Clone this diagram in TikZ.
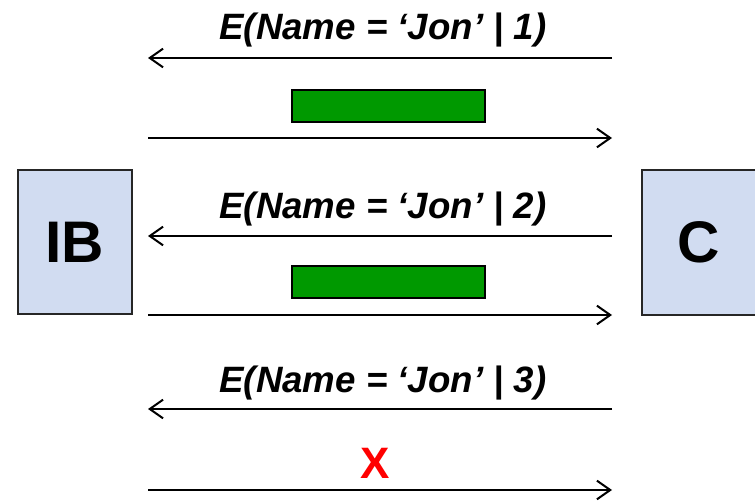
\documentclass[tikz,border=0pt]{standalone}
\usepackage{fontspec}
\setmainfont{Liberation Sans}
\usetikzlibrary{arrows.meta}
\begin{document}
\begin{tikzpicture}[x=0.75pt,y=-0.75pt,
  party/.style={draw=black!85,line width=1.5pt,fill={rgb,255:red,209;green,220;blue,241},minimum width=114*0.75pt,minimum height=144*0.75pt,inner sep=0pt,font=\fontsize{44}{44}\selectfont\bfseries},
  msg/.style={line width=1.5pt,-{Straight Barb[length=10pt,width=14pt,line width=1.5pt]}},
  lbl/.style={anchor=base,inner sep=0pt,font=\fontsize{27.5}{28}\selectfont\bfseries\itshape},
  reply/.style={draw=black,line width=1.5pt,fill={rgb,255:red,0;green,153;blue,0},minimum width=193*0.75pt,minimum height=32*0.75pt,inner sep=0pt},
  fail/.style={anchor=base,inner sep=0pt,text={rgb,255:red,255;green,0;blue,0},font=\fontsize{33}{33}\selectfont\bfseries}]
\useasboundingbox (0,0) rectangle (755,502);
\node[party] (IB) at (75,242) {IB};
\node[party] (C) at (698.5,242.5) {C};
\foreach \i/\y in {1/58,2/236,3/409}{
  \coordinate (qR\i) at (612,\y);
  \coordinate (qL\i) at (148,\y);
}
\foreach \i/\y in {1/138,2/315,3/490}{
  \coordinate (aL\i) at (148,\y);
  \coordinate (aR\i) at (612,\y);
}
\draw[msg] (qR1) -- (qL1);
\draw[msg] (aL1) -- (aR1);
\draw[msg] (qR2) -- (qL2);
\draw[msg] (aL2) -- (aR2);
\draw[msg] (qR3) -- (qL3);
\draw[msg] (aL3) -- (aR3);
\node[lbl] (l1) at (383,40) {E(Name = ‘Jon’ | 1)};
\node[lbl] (l2) at (383,218) {E(Name = ‘Jon’ | 2)};
\node[lbl] (l3) at (383,392) {E(Name = ‘Jon’ | 3)};
\node[reply] (r1) at (388.5,106) {};
\node[reply] (r2) at (388.5,282) {};
\node[fail] (x3) at (375,478) {X};
\end{tikzpicture}
\end{document}
